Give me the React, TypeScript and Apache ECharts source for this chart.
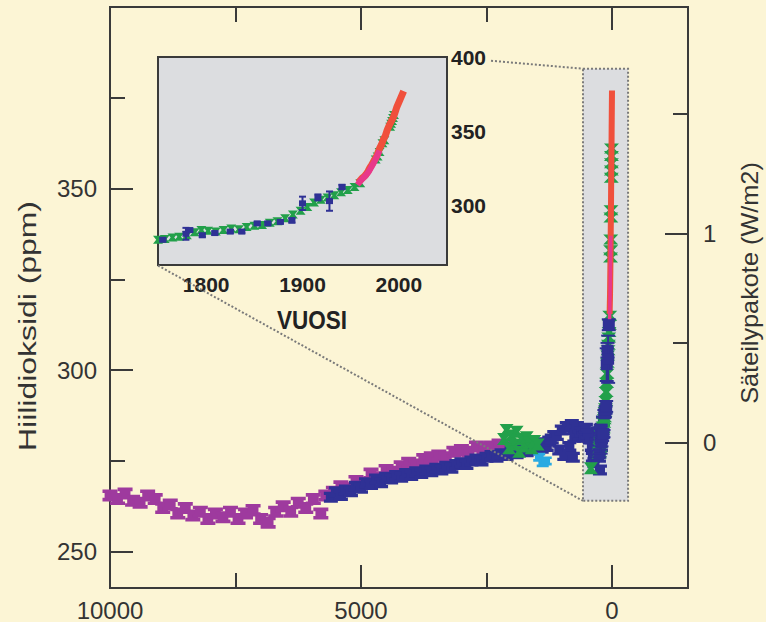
import React, { useEffect, useRef } from "react";
import * as echarts from "echarts";

// Reference year for "years before present" on the main axis
const REF_YEAR = 2005;

// ---- Main chart data: [years before present, CO2 ppm] ----
const purpleBP: number[][] = [
  [10000, 265.5], [9850, 264.5], [9700, 266], [9550, 264], [9400, 263.5], [9250, 265.5],
  [9100, 264.5], [8950, 262], [8800, 263], [8650, 260.5], [8500, 262], [8350, 260],
  [8200, 261], [8050, 259], [7900, 260.5], [7750, 259.5], [7600, 261], [7450, 259],
  [7300, 260.5], [7150, 261.5], [7000, 259], [6850, 258], [6700, 261], [6550, 262.5],
  [6400, 261], [6250, 263.5], [6100, 262], [5950, 264.5], [5800, 260.5], [5700, 265.5],
  [5550, 266.5], [5400, 268], [5250, 267.5], [5100, 269.5], [4950, 269], [4800, 271.5],
  [4650, 270.5], [4500, 272.5], [4350, 272], [4200, 273.5], [4050, 274.5], [3900, 274],
  [3750, 275.5], [3600, 276], [3450, 276.5], [3300, 276], [3150, 277.5], [3000, 278],
  [2850, 277.5], [2700, 279], [2550, 278.5], [2400, 279], [2250, 279.5], [2150, 279],
];
const blueBP: number[][] = [
  [5600, 265], [5500, 266.5], [5400, 265.5], [5300, 267], [5200, 266.5], [5100, 268],
  [5000, 267.5], [4900, 269], [4800, 268.5], [4700, 270], [4600, 269], [4500, 270.5],
  [4400, 270], [4300, 271], [4200, 270.5], [4100, 271.5], [4000, 271], [3900, 272],
  [3800, 271.5], [3700, 272.5], [3600, 272], [3500, 273], [3400, 272.5], [3300, 273.5],
  [3200, 273], [3100, 274], [3000, 274.5], [2900, 274], [2800, 275], [2700, 275.5],
  [2600, 275], [2500, 276], [2400, 276.5], [2300, 276], [2200, 277], [2100, 276.5],
  [2000, 277.5], [1900, 277], [1800, 278], [1700, 277.5], [1600, 278.5], [1500, 278],
  [1450, 279.5], [1400, 278.5], [1350, 280], [1300, 279], [1250, 280.5], [1200, 281],
  [1150, 282], [1100, 282], [1050, 278], [1000, 283.5], [950, 276.5], [900, 284.5],
  [850, 279], [800, 285], [780, 276], [750, 281.5], [700, 284.5], [650, 282],
  [600, 283], [560, 281.5], [520, 284], [480, 282.5], [440, 281], [400, 279],
  [380, 276], [350, 274.5], [320, 277.5], [300, 280], [280, 283], [260, 276],
  [240, 272.5], [220, 279], [200, 284], [180, 286],
];
const greenBP: number[][] = [
  [2150, 281], [2100, 283.5], [2050, 278.5], [2000, 282], [1950, 279.5], [1900, 283],
  [1850, 277.5], [1800, 281], [1750, 279], [1700, 281.5], [1650, 280], [1600, 278.5],
  [1550, 280.5], [1480, 279.5], [420, 273],
];
const cyanBP: number[][] = [[1450, 276], [1380, 274.5], [1320, 275]];

// ---- Modern data (inset, also projected onto the main chart): [year AD, CO2 ppm] ----
const modernGreen: number[][] = [
  [1750, 277], [1757, 277.5], [1765, 278.5], [1772, 279], [1780, 280], [1788, 282],
  [1795, 283.5], [1802, 283], [1810, 282.5], [1818, 283.5], [1826, 284.5], [1834, 284],
  [1842, 285.5], [1850, 286.5], [1858, 287], [1866, 288.5], [1874, 289.5], [1882, 291.5],
  [1890, 294], [1898, 296.5], [1905, 299], [1912, 302], [1919, 304], [1926, 305.5],
  [1933, 307], [1940, 309], [1947, 310.5], [1954, 312.5], [1960, 315],
  [1976, 331], [1978, 333], [1980, 336], [1983, 342], [1985, 344],
  [1991, 353], [1992, 355], [1993, 357], [1994, 359], [1995, 361],
];
// [year, ppm, error]
const modernBlue: number[][] = [
  [1755, 277, 1], [1779, 281, 4], [1783, 283.5, 1], [1796, 280, 1], [1809, 281.5, 1],
  [1825, 282.5, 1], [1837, 282.5, 1], [1853, 288, 1], [1864, 288, 1], [1877, 289, 1],
  [1889, 290, 1.5], [1900, 301.5, 4.5], [1916, 305.5, 2], [1928, 303, 6.5], [1941, 312.5, 1.5],
];
const modernPink: number[][] = [
  [1957, 314], [1960, 316.5], [1963, 318.5], [1966, 320.5], [1969, 323],
  [1972, 326.5], [1975, 330], [1978, 334], [1980, 337],
];
const modernRed: number[][] = [
  [1958, 315.5], [1960, 317], [1962, 318.5], [1964, 319.5], [1966, 321], [1968, 323],
  [1970, 325.5], [1972, 327.5], [1974, 330], [1976, 332], [1978, 335], [1980, 338.5],
  [1982, 341], [1984, 344.5], [1986, 347], [1988, 351], [1990, 354], [1992, 356.5],
  [1994, 359], [1996, 362.5], [1998, 366.5], [2000, 369.5], [2002, 372.5], [2004, 375.5],
  [2005, 377],
];

// ---- Axis ticks / labels ----
const mainXMajor = [0, 5000, 10000];
const mainXMinor = [2500, 7500];
const mainYMajor = [250, 300, 350];
const mainYMinor = [275, 325, 375];
const forcingMajor = [0, 1];
const forcingMinor = [0.5, 1.5];
const insetXTicks = [1800, 1850, 1900, 1950, 2000];
const insetXLabels = [1800, 1900, 2000];
const insetYTicks = [275, 300, 325, 350, 375];
const insetYLabels = [300, 350, 400];

// zoom box (main coords) and connector lines
const zoomBoxBP = [578, -320];
const zoomBoxPPM = [264, 383];
const connectors = [
  [[2410, 385.2], [578, 383]],
  [[9044, 328.8], [578, 264]],
];

const C0 = 280;
const toPPM = (f: number) => C0 * Math.exp(f / 5.35);
const toForcing = (c: number) => 5.35 * Math.log(c / C0);
const toBP = (d: number[]) => [REF_YEAR - d[0], d[1], ...(d.length > 2 ? [d[2]] : [])];

const FONT = '"Liberation Sans", Arial, Helvetica, sans-serif';
const CREAM = "#FCF5D5";
const GREY = "#DCDDE0";
const FRAME = "#3a3a3a";
const PURPLE = "#9E3A9E";
const BLUE = "#2F3195";
const GREEN = "#22A04A";
const CYAN = "#2AAAE2";
const RED = "#F0503C";
const PINK = "#E8388A";

const BLOCK = "path://M0,0H10V3H8.6V7H10V10H0V7H1.4V3H0Z";
const HOURGLASS = "path://M0,0H10L6.8,5L10,10H0L3.2,5Z";

const tickStyle = { color: FRAME, width: 2 };
const plain = (v: number) => String(v);

function errSeries(data: number[][], xi: number, yi: number, half: number, box: number, z: number) {
  return {
    type: "custom",
    xAxisIndex: xi,
    yAxisIndex: yi,
    z,
    clip: true,
    data,
    renderItem: (params: any, api: any) => {
      const x = api.value(0);
      const y = api.value(1);
      const e = api.value(2);
      const c = api.coord([x, y]);
      const t = api.coord([x, y + e]);
      const b = api.coord([x, y - e]);
      const st = { stroke: BLUE, lineWidth: 2 };
      return {
        type: "group",
        children: [
          { type: "line", shape: { x1: c[0], y1: t[1], x2: c[0], y2: b[1] }, style: st },
          { type: "line", shape: { x1: c[0] - half, y1: t[1], x2: c[0] + half, y2: t[1] }, style: st },
          { type: "line", shape: { x1: c[0] - half, y1: b[1], x2: c[0] + half, y2: b[1] }, style: st },
          { type: "rect", shape: { x: c[0] - box / 2, y: c[1] - box / 2 + 0.5, width: box, height: box - 1 }, style: { fill: BLUE } },
        ],
      };
    },
  };
}

function hiddenLabel() {
  return { show: false };
}

export default function App() {
  const ref = useRef<HTMLDivElement>(null);

  useEffect(() => {
    document.body.style.margin = "0";
    document.body.style.background = CREAM;
    if (!ref.current) return;
    const chart = echarts.init(ref.current, null, { renderer: "svg" });

    const mainLabel = { color: "#333", fontSize: 24, fontFamily: FONT, formatter: plain };
    const insetLabel = { color: "#222", fontSize: 21, fontWeight: "bold", fontFamily: FONT, formatter: plain };

    const mainX = (pos: string, ticks: number[], len: number, label: any) => ({
      type: "value",
      gridIndex: 0,
      position: pos,
      min: -1514,
      max: 10000,
      inverse: true,
      axisLine: { show: false, onZero: false },
      splitLine: { show: false },
      axisTick: { show: true, inside: true, length: len, customValues: ticks, lineStyle: tickStyle },
      axisLabel: label,
    });
    const mainY = (pos: string, ticks: number[], len: number, label: any) => ({
      type: "value",
      gridIndex: 0,
      position: pos,
      min: 240,
      max: 400,
      axisLine: { show: false, onZero: false },
      splitLine: { show: false },
      axisTick: { show: true, inside: true, length: len, customValues: ticks, lineStyle: tickStyle },
      axisLabel: label,
    });
    const insetX = (pos: string, label: any) => ({
      type: "value",
      gridIndex: 1,
      position: pos,
      min: 1750,
      max: 2050,
      axisLine: { show: false, onZero: false },
      splitLine: { show: false },
      axisTick: { show: true, inside: true, length: 10, customValues: insetXTicks, lineStyle: tickStyle },
      axisLabel: label,
    });
    const insetY = (pos: string, label: any) => ({
      type: "value",
      gridIndex: 1,
      position: pos,
      min: 260,
      max: 400,
      axisLine: { show: false, onZero: false },
      splitLine: { show: false },
      axisTick: { show: true, inside: true, length: 10, customValues: insetYTicks, lineStyle: tickStyle },
      axisLabel: label,
    });

    const option: any = {
      animation: false,
      backgroundColor: CREAM,
      grid: [
        { left: 110, top: 7, width: 578, height: 581, show: true, backgroundColor: "transparent", borderColor: FRAME, borderWidth: 2 },
        { left: 158, top: 57, width: 289, height: 208, show: true, backgroundColor: GREY, borderColor: FRAME, borderWidth: 2, z: 4 },
      ],
      xAxis: [
        mainX("bottom", mainXMajor, 23, { ...mainLabel, customValues: mainXMajor, margin: 10 }),
        mainX("bottom", mainXMinor, 15, hiddenLabel()),
        mainX("top", mainXMajor, 23, hiddenLabel()),
        mainX("top", mainXMinor, 15, hiddenLabel()),
        insetX("bottom", { ...insetLabel, customValues: insetXLabels, margin: 9 }),
        insetX("top", hiddenLabel()),
      ],
      yAxis: [
        mainY("left", mainYMajor, 23, { ...mainLabel, customValues: mainYMajor, margin: 13 }),
        mainY("left", mainYMinor, 15, hiddenLabel()),
        mainY("right", forcingMajor.map(toPPM), 23, {
          ...mainLabel,
          customValues: forcingMajor.map(toPPM),
          margin: 15,
          formatter: (v: number) => String(Math.round(toForcing(v))),
        }),
        mainY("right", forcingMinor.map(toPPM), 15, hiddenLabel()),
        insetY("left", hiddenLabel()),
        insetY("right", { ...insetLabel, customValues: insetYLabels, margin: 4 }),
      ],
      series: [
        {
          type: "scatter",
          name: "purple",
          xAxisIndex: 0,
          yAxisIndex: 0,
          z: 3,
          symbol: BLOCK,
          symbolSize: [15, 12],
          itemStyle: { color: PURPLE, opacity: 1 },
          data: purpleBP,
          markArea: {
            silent: true,
            z: 1,
            itemStyle: { color: GREY, borderColor: "#7a7a7a", borderWidth: 2, borderType: "dotted" },
            data: [[{ coord: [zoomBoxBP[0], zoomBoxPPM[1]] }, { coord: [zoomBoxBP[1], zoomBoxPPM[0]] }]],
          },
          markLine: {
            silent: true,
            z: 8,
            symbol: ["none", "none"],
            label: { show: false },
            lineStyle: { type: "dotted", color: "#7a7a7a", width: 2 },
            data: connectors.map((c) => [{ coord: c[0] }, { coord: c[1] }]),
          },
        },
        {
          type: "scatter",
          xAxisIndex: 0,
          yAxisIndex: 0,
          z: 4,
          symbol: BLOCK,
          symbolSize: [14, 11],
          itemStyle: { color: BLUE, opacity: 1 },
          data: blueBP,
        },
        {
          type: "scatter",
          xAxisIndex: 0,
          yAxisIndex: 0,
          z: 5,
          symbol: BLOCK,
          symbolSize: [12, 9],
          itemStyle: { color: CYAN, opacity: 1 },
          data: cyanBP,
        },
        {
          type: "scatter",
          xAxisIndex: 0,
          yAxisIndex: 0,
          z: 5,
          symbol: HOURGLASS,
          symbolSize: [14, 12],
          itemStyle: { color: GREEN, opacity: 1 },
          data: greenBP,
        },
        // modern data projected on main chart
        {
          type: "scatter",
          xAxisIndex: 0,
          yAxisIndex: 0,
          z: 5,
          symbol: HOURGLASS,
          symbolSize: [15, 10],
          itemStyle: { color: GREEN, opacity: 1 },
          data: modernGreen.map(toBP),
        },
        errSeries(modernBlue.map(toBP), 0, 0, 7, 12, 6),
        {
          type: "line",
          xAxisIndex: 0,
          yAxisIndex: 0,
          z: 7,
          showSymbol: false,
          lineStyle: { color: RED, width: 6 },
          data: modernRed.map(toBP),
        },
        {
          type: "line",
          xAxisIndex: 0,
          yAxisIndex: 0,
          z: 7,
          showSymbol: false,
          lineStyle: { color: PINK, width: 3.5 },
          data: modernPink.map(toBP),
        },
        // inset
        {
          type: "scatter",
          xAxisIndex: 4,
          yAxisIndex: 4,
          z: 10,
          symbol: HOURGLASS,
          symbolSize: [10, 8],
          itemStyle: { color: GREEN, opacity: 1 },
          data: modernGreen,
        },
        errSeries(modernBlue, 4, 4, 3.5, 7, 11),
        {
          type: "line",
          xAxisIndex: 4,
          yAxisIndex: 4,
          z: 12,
          showSymbol: false,
          lineStyle: { color: RED, width: 7 },
          data: modernRed,
        },
        {
          type: "line",
          xAxisIndex: 4,
          yAxisIndex: 4,
          z: 12,
          showSymbol: false,
          lineStyle: { color: PINK, width: 6 },
          data: modernPink,
        },
      ],
      graphic: [
        {
          type: "text",
          x: 28,
          y: 326,
          rotation: Math.PI / 2,
          scaleX: 1.33,
          style: {
            text: "Hiilidioksidi (ppm)",
            fill: "#333",
            font: `24px ${FONT}`,
            align: "center",
            verticalAlign: "middle",
            textAlign: "center",
            textVerticalAlign: "middle",
          },
        },
        {
          type: "text",
          x: 750,
          y: 283,
          rotation: Math.PI / 2,
          scaleX: 1.1,
          style: {
            text: "Säteilypakote (W/m2)",
            fill: "#333",
            font: `23px ${FONT}`,
            align: "center",
            verticalAlign: "middle",
            textAlign: "center",
            textVerticalAlign: "middle",
          },
        },
        {
          type: "text",
          x: 312,
          y: 320,
          scaleX: 0.9,
          z: 20,
          style: {
            text: "VUOSI",
            fill: "#222",
            font: `bold 25px ${FONT}`,
            align: "center",
            verticalAlign: "middle",
            textAlign: "center",
            textVerticalAlign: "middle",
          },
        },
      ],
    };

    chart.setOption(option);
    return () => chart.dispose();
  }, []);

  return <div ref={ref} style={{ width: 766, height: 622, background: CREAM }} />;
}
